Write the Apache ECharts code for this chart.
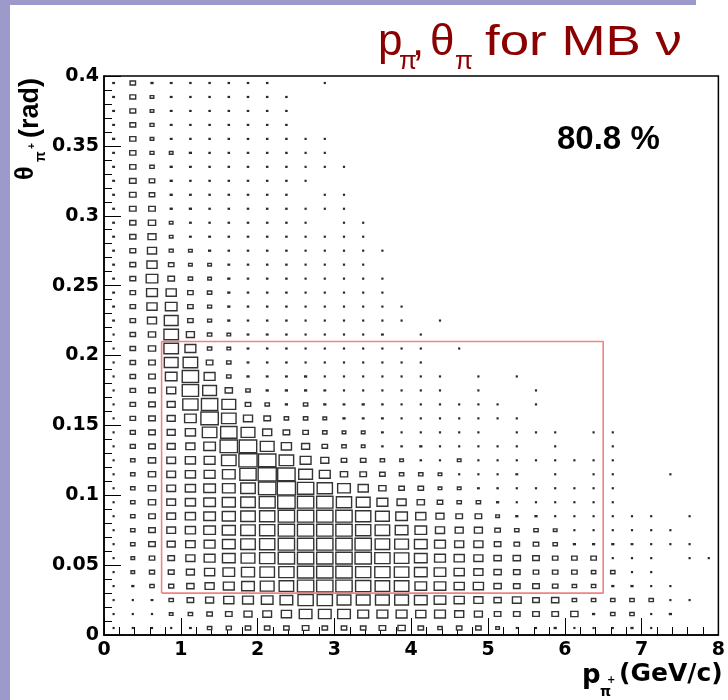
<!DOCTYPE html>
<html>
<head>
<meta charset="utf-8">
<script src="https://cdn.jsdelivr.net/npm/echarts@6/dist/echarts.min.js"></script>
<style>
  html, body { margin: 0; padding: 0; background: #fff; }
  #chart { width: 728px; height: 700px; }
</style>
</head>
<body>
<div id="chart"></div>
<script>
// Bin lower edges
const pBins = [0, 0.25, 0.5, 0.75, 1, 1.25, 1.5, 1.75, 2, 2.25, 2.5, 2.75, 3, 3.25, 3.5, 3.75,
               4, 4.25, 4.5, 4.75, 5, 5.25, 5.5, 5.75, 6, 6.25, 6.5, 6.75, 7, 7.25, 7.5, 7.75];
const thetaBins = [0, 0.01, 0.02, 0.03, 0.04, 0.05, 0.06, 0.07, 0.08, 0.09,
                   0.1, 0.11, 0.12, 0.13, 0.14, 0.15, 0.16, 0.17, 0.18, 0.19,
                   0.2, 0.21, 0.22, 0.23, 0.24, 0.25, 0.26, 0.27, 0.28, 0.29,
                   0.3, 0.31, 0.32, 0.33, 0.34, 0.35, 0.36, 0.37, 0.38, 0.39];
const P_STEP = 0.25, TH_STEP = 0.01;
const V_FULL = 53;   // content that would fill a whole cell

// Cell contents (arbitrary units), one array per theta row, 32 momentum bins each
const r00 = [6,4,5,6,8,12,14,15,15,15,18,15,15,15,18,20,15,12,15,15,10,6,6,9,6,6,6,9,5,0,0,0];
const r01 = [6,5,6,10,12,15,18,22,24,28,35,35,35,30,30,30,28,30,25,22,18,18,18,18,20,9,12,12,6,9,0,0];
const r02 = [6,6,8,12,18,22,28,30,32,35,42,42,38,38,38,38,35,32,28,25,20,24,18,20,12,12,12,12,12,6,6,0];
const r03 = [6,9,12,14,20,25,30,35,38,40,45,45,45,42,40,40,32,32,28,28,20,18,18,15,12,12,9,9,6,6,0,0];
const r04 = [6,10,14,16,22,28,32,36,40,42,45,45,45,42,42,40,35,32,28,25,20,18,15,15,15,12,12,6,6,0,0,0];
const r05 = [6,10,15,18,25,30,35,38,42,45,45,45,45,45,42,40,35,30,28,25,20,20,18,15,15,15,6,6,6,0,6,6];
const r06 = [6,12,18,22,26,30,35,40,42,45,45,45,45,45,40,38,35,30,25,25,18,15,15,12,9,9,9,8,6,6,6,0];
const r07 = [6,12,18,24,28,32,36,40,42,45,45,45,45,42,40,35,32,25,22,22,15,12,12,10,6,6,6,6,6,6,0,0];
const r08 = [6,12,18,24,28,32,36,40,42,45,45,45,45,42,38,32,28,22,18,18,10,9,9,6,6,6,6,6,6,0,6,0];
const r09 = [6,12,20,24,28,32,36,40,44,48,45,45,42,38,30,25,20,15,12,12,9,6,6,6,6,6,6,0,0,0,0,0];
const r10 = [6,12,20,24,28,32,35,40,48,50,45,42,35,28,20,15,15,10,10,8,7,6,6,6,6,6,6,0,0,0,0,0];
const r11 = [6,12,20,24,28,30,35,45,50,48,38,30,20,18,15,12,12,10,6,6,6,8,0,6,0,6,6,0,0,6,0,0];
const r12 = [6,12,20,24,28,30,40,50,48,40,30,22,15,15,12,10,7,6,10,6,6,6,6,6,6,6,6,0,0,0,0,0];
const r13 = [6,14,18,22,25,32,48,48,38,28,22,15,12,10,7,7,9,6,6,6,6,6,0,6,0,0,6,0,0,0,0,0];
const r14 = [6,14,18,22,28,40,45,38,25,18,15,12,10,10,8,6,6,6,6,6,0,6,6,6,0,6,6,0,0,0,0,0];
const r15 = [6,15,18,22,32,48,40,25,18,12,12,10,9,8,8,6,6,6,6,6,6,6,0,0,0,0,0,0,0,0,0,0];
const r16 = [6,15,18,22,42,45,38,15,12,9,12,9,8,9,7,6,6,6,6,6,6,0,6,0,0,0,0,0,0,0,0,0];
const r17 = [6,15,18,25,45,38,20,12,9,9,9,8,6,6,6,6,6,6,0,6,0,0,6,0,0,0,0,0,0,0,0,0];
const r18 = [6,15,18,32,45,30,12,9,8,8,9,6,6,6,6,6,6,6,0,6,0,6,0,0,0,0,0,0,0,0,0,0];
const r19 = [6,15,18,38,40,18,12,8,7,7,6,6,6,6,6,6,6,0,0,0,0,0,0,0,0,0,0,0,0,0,0,0];
const r20 = [6,15,20,40,30,12,10,8,7,7,6,6,6,6,6,6,6,0,6,0,0,0,0,0,0,0,0,0,0,0,0,0];
const r21 = [6,15,20,40,22,12,10,8,8,7,6,6,6,6,8,0,6,0,0,0,0,0,0,0,0,0,0,0,0,0,0,0];
const r22 = [8,15,25,38,15,11,9,7,7,7,6,6,6,6,6,6,0,6,0,0,0,0,0,0,0,0,0,0,0,0,0,0];
const r23 = [8,15,28,32,15,11,9,7,7,7,6,6,6,6,6,6,0,0,0,0,0,0,0,0,0,0,0,0,0,0,0,0];
const r24 = [8,15,30,28,15,12,9,7,7,7,6,6,6,6,6,0,0,0,0,0,0,0,0,0,0,0,0,0,0,0,0,0];
const r25 = [8,16,32,18,12,10,9,7,7,7,6,6,6,6,6,0,0,0,0,0,0,0,0,0,0,0,0,0,0,0,0,0];
const r26 = [8,16,28,15,10,10,8,7,7,7,6,6,6,6,0,0,0,0,0,0,0,0,0,0,0,0,0,0,0,0,0,0];
const r27 = [8,16,25,11,10,9,7,7,7,7,6,6,6,6,6,0,0,0,0,0,0,0,0,0,0,0,0,0,0,0,0,0];
const r28 = [8,17,22,10,8,8,7,7,7,7,6,6,6,6,0,0,0,0,0,0,0,0,0,0,0,0,0,0,0,0,0,0];
const r29 = [8,17,20,10,8,7,7,7,7,7,6,0,6,6,0,0,0,0,0,0,0,0,0,0,0,0,0,0,0,0,0,0];
const r30 = [8,18,18,9,9,7,7,7,7,7,6,6,6,0,0,0,0,0,0,0,0,0,0,0,0,0,0,0,0,0,0,0];
const r31 = [8,18,15,9,8,7,7,7,7,7,0,6,6,0,0,0,0,0,0,0,0,0,0,0,0,0,0,0,0,0,0,0];
const r32 = [8,18,15,9,7,7,7,7,7,7,6,0,0,0,0,0,0,0,0,0,0,0,0,0,0,0,0,0,0,0,0,0];
const r33 = [8,17,12,9,8,7,7,7,7,7,6,6,6,0,0,0,0,0,0,0,0,0,0,0,0,0,0,0,0,0,0,0];
const r34 = [8,17,11,10,9,7,7,7,7,7,6,6,0,0,0,0,0,0,0,0,0,0,0,0,0,0,0,0,0,0,0,0];
const r35 = [9,17,10,8,7,7,7,7,7,7,6,6,0,0,0,0,0,0,0,0,0,0,0,0,0,0,0,0,0,0,0,0];
const r36 = [8,16,11,8,7,7,7,7,7,7,0,0,0,0,0,0,0,0,0,0,0,0,0,0,0,0,0,0,0,0,0,0];
const r37 = [8,16,10,8,7,7,7,7,7,7,0,0,0,0,0,0,0,0,0,0,0,0,0,0,0,0,0,0,0,0,0,0];
const r38 = [8,16,10,8,7,7,7,7,7,7,0,0,0,0,0,0,0,0,0,0,0,0,0,0,0,0,0,0,0,0,0,0];
const r39 = [8,15,9,8,7,7,7,7,7,0,0,6,0,0,0,0,0,0,0,0,0,0,0,0,0,0,0,0,0,0,0,0];
const rows = [r00,r01,r02,r03,r04,r05,r06,r07,r08,r09,r10,r11,r12,r13,r14,r15,r16,r17,r18,r19,
              r20,r21,r22,r23,r24,r25,r26,r27,r28,r29,r30,r31,r32,r33,r34,r35,r36,r37,r38,r39];

// Selection window (red box): [pMin, thetaMin, pMax, thetaMax]
const cutBox = [0.75, 0.03, 6.5, 0.21];
const efficiencyText = '80.8 %';

const xTicks = [0, 1, 2, 3, 4, 5, 6, 7, 8];
const yTicks = [0, 0.05, 0.1, 0.15, 0.2, 0.25, 0.3, 0.35, 0.4];

const cells = [];
rows.forEach((row, j) => row.forEach((v, i) => {
  if (v > 0) cells.push([pBins[i], thetaBins[j], v]);
}));

const cutPath = [[cutBox[0], cutBox[1]], [cutBox[2], cutBox[1]], [cutBox[2], cutBox[3]],
                 [cutBox[0], cutBox[3]], [cutBox[0], cutBox[1]]];

const chart = echarts.init(document.getElementById('chart'), null, { renderer: 'canvas' });
const labelFont = { fontFamily: 'DejaVu Sans', fontWeight: 'bold', fontSize: 19, color: '#000' };
const dark = '#8b0000';

chart.setOption({
  animation: false,
  backgroundColor: '#fff',
  grid: { left: 104, right: 6, top: 76, bottom: 65, show: true, borderColor: '#000', borderWidth: 1.5, backgroundColor: '#fff' },
  xAxis: {
    type: 'value', min: xTicks[0], max: xTicks[xTicks.length - 1], interval: 1,
    axisLine: { onZero: false, lineStyle: { color: '#000', width: 1.5 } },
    axisTick: { inside: true, length: 17, lineStyle: { color: '#000', width: 1 } },
    minorTick: { show: true, splitNumber: 5, length: 8, lineStyle: { color: '#000', width: 1 } },
    axisLabel: Object.assign({ margin: 6 }, labelFont),
    splitLine: { show: false }
  },
  yAxis: {
    type: 'value', min: yTicks[0], max: yTicks[yTicks.length - 1], interval: 0.05,
    axisLine: { onZero: false, lineStyle: { color: '#000', width: 1.5 } },
    axisTick: { inside: true, length: 17, lineStyle: { color: '#000', width: 1 } },
    minorTick: { show: true, splitNumber: 5, length: 8, lineStyle: { color: '#000', width: 1 } },
    axisLabel: Object.assign({ margin: 5, formatter: v => String(Number(v.toFixed(2))) }, labelFont),
    splitLine: { show: false }
  },
  series: [
    {
      type: 'custom',
      clip: true,
      data: cells,
      encode: { x: 0, y: 1 },
      renderItem: function (params, api) {
        const x = api.value(0), y = api.value(1), v = api.value(2);
        const c = api.coord([x + P_STEP / 2, y + TH_STEP / 2]);
        const s = api.size([P_STEP, TH_STEP]);
        const f = Math.min(1, v / V_FULL);
        const small = v < 10;
        const w = Math.max(s[0] * f, 2.2), h = Math.max(s[1] * f, 2.2);
        return {
          type: 'rect',
          shape: { x: c[0] - w / 2, y: c[1] - h / 2, width: w, height: h },
          style: small ? { fill: '#2a2a2a', stroke: null }
                       : { fill: '#fff', stroke: '#333', lineWidth: 1.4 }
        };
      }
    },
    {
      type: 'line',
      data: cutPath,
      symbol: 'none',
      silent: true,
      lineStyle: { color: '#f28383', width: 1.6 },
      z: 5
    }
  ],
  graphic: [
    { type: 'rect', shape: { x: 0, y: 0, width: 10, height: 700 }, style: { fill: '#9c9acb' }, silent: true },
    { type: 'rect', shape: { x: 0, y: 0, width: 696, height: 5 }, style: { fill: '#9c9acb' }, silent: true },
    // Title
    { type: 'text', x: 378, y: 43, style: { text: 'p', font: '44px "Liberation Sans"', fill: dark, verticalAlign: 'middle' } },
    { type: 'text', x: 399, y: 62, style: { text: 'π', font: '26px "Liberation Sans"', fill: dark, verticalAlign: 'middle' } },
    { type: 'text', x: 412, y: 43, style: { text: ',', font: '44px "Liberation Sans"', fill: dark, verticalAlign: 'middle' } },
    { type: 'text', x: 430, y: 43, style: { text: 'θ', font: '44px "Liberation Sans"', fill: dark, verticalAlign: 'middle' } },
    { type: 'text', x: 455, y: 62, style: { text: 'π', font: '26px "Liberation Sans"', fill: dark, verticalAlign: 'middle' } },
    { type: 'text', x: 485, y: 43, scaleX: 1.23, style: { text: 'for MB ν', font: '43px "Liberation Sans"', fill: dark, verticalAlign: 'middle' } },
    // efficiency
    { type: 'text', x: 557, y: 140, style: { text: efficiencyText, font: 'bold 33px "Liberation Sans"', fill: '#000', verticalAlign: 'middle' } },
    // X axis title
    { type: 'text', x: 582, y: 676, style: { text: 'p', font: 'bold 26px "DejaVu Sans"', fill: '#000', verticalAlign: 'middle' } },
    { type: 'text', x: 600, y: 692, style: { text: 'π', font: 'bold 14px "DejaVu Sans"', fill: '#000', verticalAlign: 'middle' } },
    { type: 'text', x: 607, y: 680, style: { text: '+', font: 'bold 10px "DejaVu Sans"', fill: '#000', verticalAlign: 'middle' } },
    { type: 'text', x: 619, y: 674, style: { text: '(GeV/c)', font: 'bold 25px "DejaVu Sans"', fill: '#000', verticalAlign: 'middle' } },
    // Y axis title (rotated)
    {
      type: 'group', x: 39, y: 180, rotation: Math.PI / 2,
      children: [
        { type: 'text', x: 0, y: 0, style: { text: 'θ', font: 'bold 25px "Liberation Sans"', fill: '#000', verticalAlign: 'bottom' } },
        { type: 'text', x: 18, y: 9, style: { text: 'π', font: 'bold 14px "Liberation Sans"', fill: '#000', verticalAlign: 'bottom' } },
        { type: 'text', x: 31, y: -2, style: { text: '+', font: 'bold 10px "Liberation Sans"', fill: '#000', verticalAlign: 'bottom' } },
        { type: 'text', x: 42, y: 5, style: { text: '(rad)', font: 'bold 27px "Liberation Sans"', fill: '#000', verticalAlign: 'bottom' } }
      ]
    }
  ]
});
</script>
</body>
</html>
